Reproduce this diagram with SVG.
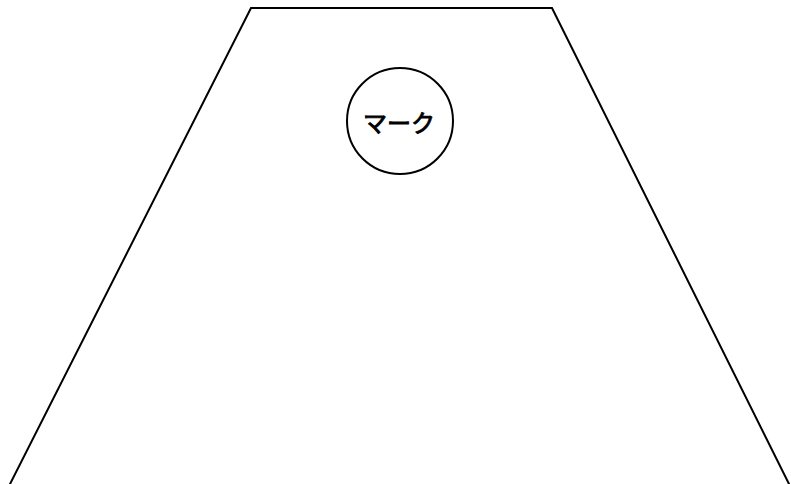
<svg xmlns="http://www.w3.org/2000/svg" width="791" height="484" viewBox="0 0 791 484">
<style>
.ln{fill:none;stroke:#000;stroke-width:2}
.lbl{font-family:"Noto Sans CJK JP","Liberation Sans",sans-serif;font-size:24px;fill:#000;stroke:#000;stroke-width:0.9}
</style>
<rect width="791" height="484" fill="#fff"/>
<g id="trapezoid">
<polyline class="ln" points="8,488 251,8 552,8 791,488"/>
</g>
<g id="mark">
<circle class="ln" cx="400" cy="121" r="53" fill="#fff"/>
<text class="lbl" x="399" y="121" text-anchor="middle" dominant-baseline="central">マーク</text>
</g>
</svg>
